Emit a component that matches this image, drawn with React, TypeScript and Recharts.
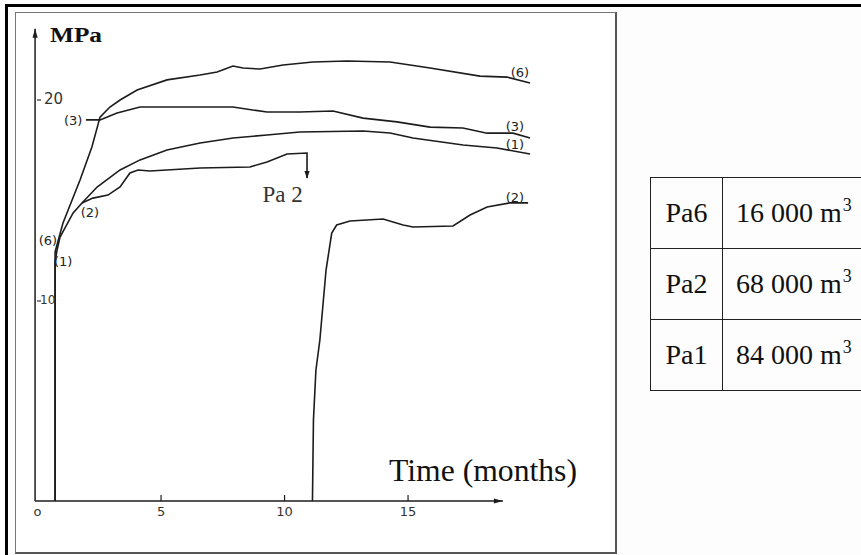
import React from "react";
import {
  LineChart,
  Line,
  XAxis,
  YAxis,
  ReferenceLine,
  ReferenceDot,
} from "recharts";

// Pa6 (16 000 m3)
const pa6Months = [0.71, 0.71, 1.03, 1.72, 2.2, 2.53, 2.93, 3.34, 4.03, 5.24, 6.58, 7.27, 7.91, 8.32, 9.01, 9.94, 11.15, 12.53, 14.27, 15.89, 17.91, 19.01, 19.94];
const pa6Mpa = [0, 12.39, 13.83, 15.97, 17.61, 19.1, 19.6, 19.95, 20.45, 20.95, 21.19, 21.34, 21.64, 21.54, 21.49, 21.69, 21.84, 21.89, 21.84, 21.54, 21.14, 21.09, 20.8];

// (3)
const pa3Months = [1.96, 2.53, 3.22, 4.15, 5.89, 7.91, 9.29, 10.62, 11.96, 13.18, 14.55, 15.89, 17.22, 18.2, 19.25, 19.94];
const pa3Mpa = [18.96, 18.96, 19.3, 19.6, 19.6, 19.6, 19.35, 19.35, 19.4, 19.05, 18.86, 18.6, 18.56, 18.3, 18.3, 18.06];

// Pa1 (84 000 m3)
const pa1Months = [0.71, 0.71, 0.79, 0.91, 1.44, 1.8, 2.41, 3.34, 4.15, 5.24, 6.58, 7.92, 9.29, 10.62, 13.18, 14.27, 15.2, 17.23, 18.6, 19.94];
const pa1Mpa = [0, 11.89, 12.49, 13.13, 14.33, 14.83, 15.62, 16.47, 16.97, 17.46, 17.81, 18.06, 18.21, 18.36, 18.41, 18.31, 18.06, 17.71, 17.56, 17.26];

// Pa2 (68 000 m3), first filling, ends with the drop arrow
const pa2aMonths = [1.8, 2.24, 2.85, 3.34, 3.74, 4.07, 4.55, 6.58, 8.6, 9.29, 10.1, 10.91, 10.91];
const pa2aMpa = [14.83, 15.07, 15.22, 15.62, 16.32, 16.47, 16.42, 16.57, 16.62, 16.87, 17.26, 17.31, 16.07];

// Pa2 refilled
const pa2bMonths = [11.13, 11.17, 11.27, 11.43, 11.68, 11.91, 12.11, 12.65, 13.99, 14.8, 15.2, 16.82, 17.51, 18.2, 19.13, 19.86];
const pa2bMpa = [0, 4.03, 6.52, 8.01, 11.49, 13.33, 13.73, 13.93, 14.03, 13.73, 13.63, 13.68, 14.23, 14.63, 14.83, 14.83];

const monthTicks = [0, 5, 10, 15];
const mpaTicks = [10, 20];

// curve tags: [text, month, MPa]
const curveTags: [string, number, number][] = [
  ["(6)", 0.42, 12.99],
  ["(1)", 1.04, 11.94],
  ["(2)", 2.12, 14.38],
  ["(3)", 1.44, 18.96],
  ["(6)", 19.53, 21.34],
  ["(3)", 19.33, 18.66],
  ["(1)", 19.33, 17.76],
  ["(2)", 19.33, 15.12],
];

const tableCodes = ["Pa6", "Pa2", "Pa1"];
const tableVolumes = ["16 000", "68 000", "84 000"];

const zip = (t: number[], p: number[]) => t.map((v, i) => ({ t: v, p: p[i] }));

const INK = "#1c1c1c";
const HAND = '"DejaVu Sans", sans-serif';
const SERIF = '"Liberation Serif", "Times New Roman", serif';

const Arrow = (props: any) => {
  const { x1, y1, x2, y2 } = props;
  const a = Math.atan2(y2 - y1, x2 - x1);
  const len = 9;
  const w = 2.6;
  const bx = x2 - len * Math.cos(a);
  const by = y2 - len * Math.sin(a);
  const nx = -Math.sin(a) * w;
  const ny = Math.cos(a) * w;
  return (
    <g>
      <line x1={x1} y1={y1} x2={x2} y2={y2} stroke={INK} strokeWidth={1.5} />
      <path d={`M${x2},${y2}L${bx + nx},${by + ny}L${bx - nx},${by - ny}Z`} fill={INK} />
    </g>
  );
};

const MonthTick = ({ x, y, payload }: any) => (
  <g>
    {payload.value > 0 && (
      <line x1={x} x2={x} y1={y - 6} y2={y} stroke={INK} strokeWidth={1.2} />
    )}
    <text x={x} y={y + 15} textAnchor="middle" fontSize={13} fontFamily={HAND} fill="#333">
      {payload.value === 0 ? "o" : payload.value}
    </text>
  </g>
);

const MpaTick = ({ y, payload }: any) => {
  const big = payload.value === 20;
  return (
    <g>
      <line x1={37} x2={41} y1={y + 1} y2={y + 1} stroke="#333" strokeWidth={1.2} />
      <text
        x={big ? 44 : 40}
        y={y}
        dy="0.36em"
        fontSize={big ? 15 : 12}
        fontFamily={HAND}
        fill="#333"
      >
        {payload.value}
      </text>
    </g>
  );
};

const DropHead = (props: any) => {
  const { cx, cy, index } = props;
  if (index !== pa2aMonths.length - 1) return <g key={index} />;
  return (
    <path
      key={index}
      d={`M${cx},${cy + 1}L${cx - 2.6},${cy - 7}L${cx + 2.6},${cy - 7}Z`}
      fill={INK}
    />
  );
};

const series = [
  { key: "pa6", data: zip(pa6Months, pa6Mpa) },
  { key: "pa3", data: zip(pa3Months, pa3Mpa) },
  { key: "pa1", data: zip(pa1Months, pa1Mpa) },
  { key: "pa2b", data: zip(pa2bMonths, pa2bMpa) },
];

const cell = {
  height: 70,
  padding: 0,
  border: "1.5px solid #222",
  lineHeight: 1,
  whiteSpace: "nowrap" as const,
};

export default function App() {
  return (
    <div
      style={{
        position: "absolute",
        left: 0,
        top: 0,
        width: 861,
        height: 555,
        overflow: "hidden",
        background: "#fdfdfd",
        fontFamily: SERIF,
      }}
    >
      {/* page frame */}
      <div style={{ position: "absolute", left: 5, top: 4, width: 860, height: 3, background: "#000" }} />
      <div style={{ position: "absolute", left: 5, top: 4, width: 3, height: 560, background: "#000" }} />
      <div
        style={{
          position: "absolute",
          left: 15,
          top: 12,
          width: 599,
          height: 539,
          border: "1px solid #777",
          borderRight: "2px solid #555",
          borderBottom: "2px solid #555",
          background: "#fff",
        }}
      />

      <div style={{ position: "absolute", left: 0, top: 0 }}>
        <LineChart
          width={620}
          height={555}
          margin={{ top: 18.6, right: 76.1, bottom: 24, left: 25.2 }}
        >
          <XAxis
            type="number"
            dataKey="t"
            domain={[-0.5, 20.5]}
            ticks={monthTicks}
            interval={0}
            axisLine={false}
            tickLine={false}
            tickSize={0}
            tickMargin={0}
            height={30}
            tick={<MonthTick />}
            label={() => (
              <text x={389} y={481} fontSize={31} fontFamily={SERIF} fill="#111" textLength={188} lengthAdjust="spacingAndGlyphs">
                Time (months)
              </text>
            )}
          />
          <YAxis
            type="number"
            dataKey="p"
            domain={[0, 24]}
            ticks={mpaTicks}
            interval={0}
            mirror
            width={1}
            axisLine={false}
            tickLine={false}
            tickSize={0}
            tickMargin={0}
            tick={<MpaTick />}
            label={() => (
              <text x={50} y={41.5} fontSize={20} fontWeight="bold" fontFamily={SERIF} fill="#111" textLength={52} lengthAdjust="spacingAndGlyphs">
                MPa
              </text>
            )}
          />

          <ReferenceLine
            segment={[{ x: -0.1, y: 0 }, { x: 18.84, y: 0 }]}
            shape={Arrow}
          />
          <ReferenceLine
            segment={[{ x: -0.1, y: 0 }, { x: -0.1, y: 23.5 }]}
            shape={Arrow}
          />

          {series.map((s) => (
            <Line
              key={s.key}
              data={s.data}
              dataKey="p"
              type="linear"
              stroke={INK}
              strokeWidth={1.6}
              dot={false}
              isAnimationActive={false}
            />
          ))}
          <Line
            data={zip(pa2aMonths, pa2aMpa)}
            dataKey="p"
            type="linear"
            stroke={INK}
            strokeWidth={1.6}
            dot={DropHead}
            activeDot={false}
            isAnimationActive={false}
          />

          {curveTags.map(([text, t, p], i) => (
            <ReferenceDot
              key={i}
              x={t}
              y={p}
              r={0}
              fill="none"
              stroke="none"
              label={{ value: text, position: "center", fontSize: 13, fill: "#222", fontFamily: HAND }}
            />
          ))}
          <ReferenceDot
            x={9.92}
            y={15.27}
            r={0}
            fill="none"
            stroke="none"
            label={{ value: "Pa 2", position: "center", fontSize: 23, fill: "#333", fontFamily: SERIF }}
          />
        </LineChart>
      </div>

      <table
        style={{
          position: "absolute",
          left: 650,
          top: 177,
          width: 262,
          tableLayout: "fixed",
          borderCollapse: "collapse",
          fontSize: 28,
          color: "#111",
          fontFamily: SERIF,
        }}
      >
        <colgroup>
          <col style={{ width: 72 }} />
          <col style={{ width: 190 }} />
        </colgroup>
        <tbody>
          {tableCodes.map((code, i) => (
            <tr key={code}>
              <td style={{ ...cell, textAlign: "center" }}>{code}</td>
              <td style={{ ...cell, paddingLeft: 13 }}>
                {tableVolumes[i]} m
                <span style={{ fontSize: "0.64em", position: "relative", top: "-0.6em", marginLeft: 1 }}>3</span>
              </td>
            </tr>
          ))}
        </tbody>
      </table>
    </div>
  );
}
